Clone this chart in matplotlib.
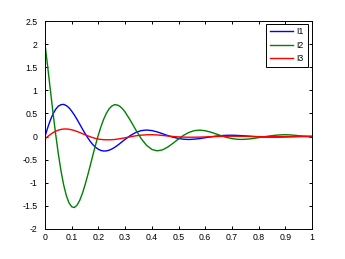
import matplotlib
matplotlib.use("Agg")
import matplotlib.pyplot as plt

t = [0.00, 0.01, 0.02, 0.03, 0.04, 0.05, 0.06, 0.07, 0.08, 0.09,
     0.10, 0.11, 0.12, 0.13, 0.14, 0.15, 0.16, 0.17, 0.18, 0.19,
     0.20, 0.21, 0.22, 0.23, 0.24, 0.25, 0.26, 0.27, 0.28, 0.29,
     0.30, 0.32, 0.34, 0.36, 0.38,
     0.40, 0.42, 0.44, 0.46, 0.48, 0.50, 0.52, 0.54, 0.56, 0.58,
     0.60, 0.62, 0.64, 0.66, 0.68, 0.70, 0.72, 0.74, 0.76, 0.78,
     0.80, 0.82, 0.84, 0.86, 0.88, 0.90, 0.92, 0.94, 0.96, 0.98, 1.00]

I1 = [0.0, 0.191, 0.355, 0.49, 0.59, 0.658, 0.69, 0.696, 0.67, 0.622,
      0.55, 0.466, 0.37, 0.268, 0.166, 0.066, -0.026, -0.109, -0.18, -0.234,
      -0.276, -0.302, -0.313, -0.310, -0.296, -0.270, -0.237, -0.197, -0.153, -0.107,
      -0.061, 0.023, 0.088, 0.128, 0.141,
      0.130, 0.101, 0.062, 0.021, -0.015, -0.042, -0.058, -0.063, -0.056, -0.043,
      -0.025, -0.007, 0.009, 0.020, 0.027, 0.028, 0.025, 0.018, 0.010, 0.002,
      -0.005, -0.010, -0.012, -0.012, -0.011, -0.008, -0.004, 0.0, 0.003, 0.005, 0.006]

I2 = [2.0, 1.513, 1.012, 0.515, 0.047, -0.378, -0.746, -1.049, -1.279, -1.437,
      -1.519, -1.536, -1.484, -1.381, -1.231, -1.045, -0.836, -0.615, -0.387, -0.168,
      0.037, 0.221, 0.379, 0.505, 0.599, 0.659, 0.689, 0.684, 0.656, 0.603,
      0.531, 0.347, 0.145, -0.042, -0.188,
      -0.278, -0.309, -0.288, -0.227, -0.143, -0.052, 0.030, 0.092, 0.129, 0.139,
      0.126, 0.097, 0.058, 0.018, -0.018, -0.044, -0.059, -0.062, -0.055, -0.041,
      -0.023, -0.005, 0.012, 0.026, 0.036, 0.040, 0.035, 0.025, 0.013, 0.002, -0.006]

I3 = [-0.05, 0.0, 0.045, 0.084, 0.115, 0.139, 0.155, 0.163, 0.164, 0.158,
      0.146, 0.130, 0.110, 0.087, 0.063, 0.039, 0.016, -0.006, -0.025, -0.042,
      -0.055, -0.062, -0.068, -0.070, -0.070, -0.068, -0.064, -0.056, -0.048, -0.037,
      -0.027, -0.004, 0.016, 0.030, 0.038,
      0.040, 0.035, 0.024, 0.012, 0.001, -0.007, -0.012, -0.015, -0.014, -0.012,
      -0.008, -0.004, 0.0, 0.004, 0.006, 0.007, 0.006, 0.005, 0.003, 0.0,
      -0.002, -0.003, -0.003, -0.003, -0.002, -0.001, 0.0, 0.001, 0.001, 0.001, 0.001]

labels = ["I1", "I2", "I3"]
colors = ["#0000ff", "#008000", "#ff0000"]

xticks = [0, 0.1, 0.2, 0.3, 0.4, 0.5, 0.6, 0.7, 0.8, 0.9, 1]
xticklabels = ["0", "0.1", "0.2", "0.3", "0.4", "0.5", "0.6", "0.7", "0.8", "0.9", "1"]
yticks = [-2, -1.5, -1, -0.5, 0, 0.5, 1, 1.5, 2, 2.5]
yticklabels = ["-2", "-1.5", "-1", "-0.5", "0", "0.5", "1", "1.5", "2", "2.5"]

plt.rcParams['font.family'] = ['Liberation Sans', 'DejaVu Sans']
plt.rcParams['axes.unicode_minus'] = False

fig = plt.figure(figsize=(3.45, 2.59), dpi=100)
ax = fig.add_axes([45/345, 30/259, 267/345, 208/259])

for ys, lab, c in zip([I1, I2, I3], labels, colors):
    ax.plot(t, ys, color=c, lw=1.0, label=lab)

ax.set_xlim(0, 1)
ax.set_ylim(-2, 2.5)
ax.set_xticks(xticks)
ax.set_xticklabels(xticklabels)
ax.set_yticks(yticks)
ax.set_yticklabels(yticklabels)
ax.tick_params(direction='in', length=2.5, width=0.7, labelsize=6.3,
               top=True, right=True)
ax.tick_params(axis='y', pad=5.5)
ax.tick_params(axis='x', pad=3)
for s in ax.spines.values():
    s.set_linewidth(0.7)

leg = ax.legend(loc='upper right', bbox_to_anchor=(307.5/345, 1 - 24/259),
                bbox_transform=fig.transFigure, borderaxespad=0,
                fontsize=6.3, fancybox=False, edgecolor='black', framealpha=1,
                handlelength=2.7, handletextpad=0.4, labelspacing=0.5,
                borderpad=0.4)
leg.get_frame().set_linewidth(0.7)

fig.savefig("out.png", dpi=100)
